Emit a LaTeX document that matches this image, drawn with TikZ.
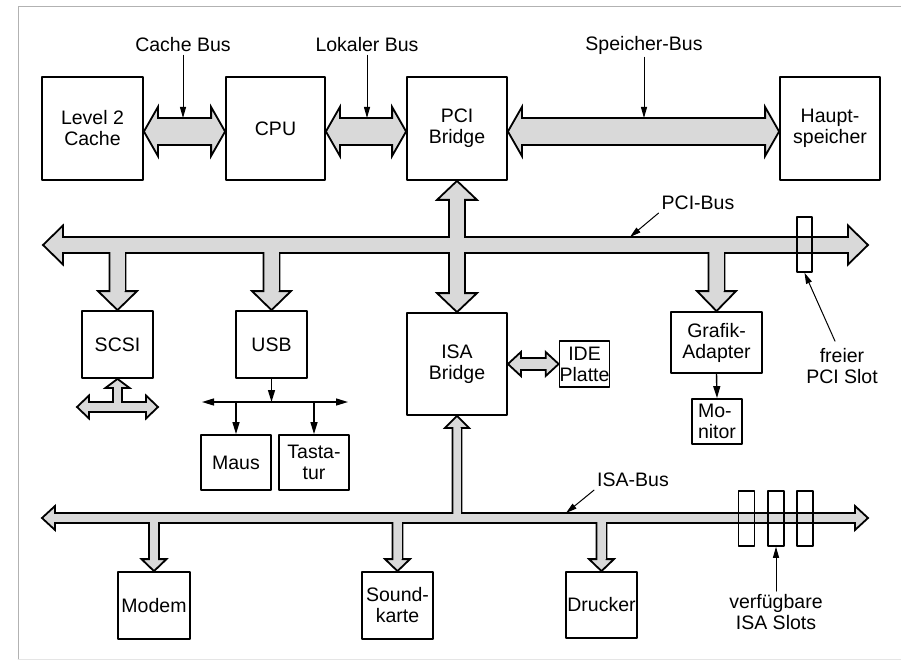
\documentclass[tikz,border=0pt]{standalone}
\usepackage{fontspec}
\setmainfont{Liberation Sans}
\usepackage{xcolor}
\usetikzlibrary{arrows.meta,calc}
\definecolor{busgray}{gray}{0.85}
\newcommand{\busfont}{\fontsize{19.5}{21}\selectfont}
\tikzset{
  box/.style={draw, line width=1.8pt, inner sep=0pt, align=center, font=\busfont},
  lbl/.style={inner sep=3pt, align=center, font=\busfont},
  slotbox/.style={draw, line width=1.5pt, minimum width=16pt, minimum height=55pt, inner sep=0pt},
  busline/.style={draw=black, fill=busgray, line width=1.8pt, line join=miter},
  lblarr/.style={-{Triangle[length=11pt,width=6pt]}, line width=1pt},
  usbarr/.style={-{Triangle[length=12pt,width=7pt]}, line width=1.4pt},
  every picture/.style={line cap=round, line join=round}
}
% fat bus arrow with heads at both ends: start, end, shaft half, head half, head length
\newcommand{\dblbus}[5]{%
  \path (#1) coordinate (p1) (#2) coordinate (p2);
  \coordinate (h1) at ($(p1)!#5!(p2)$);
  \coordinate (h2) at ($(p2)!#5!(p1)$);
  \filldraw[busline] (p1)
    -- ($(h1)!#4!90:(p2)$) -- ($(h1)!#3!90:(p2)$)
    -- ($(h2)!#3!-90:(p1)$) -- ($(h2)!#4!-90:(p1)$)
    -- (p2)
    -- ($(h2)!#4!90:(p1)$) -- ($(h2)!#3!90:(p1)$)
    -- ($(h1)!#3!-90:(p2)$) -- ($(h1)!#4!-90:(p2)$)
    -- cycle;
}
% fat bus arrow with one head at the end
\newcommand{\onebus}[5]{%
  \path (#1) coordinate (p1) (#2) coordinate (p2);
  \coordinate (h2) at ($(p2)!#5!(p1)$);
  \filldraw[busline] ($(p1)!#3!90:(p2)$)
    -- ($(h2)!#3!-90:(p1)$) -- ($(h2)!#4!-90:(p1)$)
    -- (p2)
    -- ($(h2)!#4!90:(p1)$) -- ($(h2)!#3!90:(p1)$)
    -- ($(p1)!#3!-90:(p2)$) -- cycle;
}
% grey over the inside of a shaft, hides the lines at the joins
\newcommand{\shaftfill}[3]{%
  \path (#1) coordinate (q1) (#2) coordinate (q2);
  \fill[busgray] ($(q1)!#3!90:(q2)$) -- ($(q2)!#3!-90:(q1)$)
    -- ($(q2)!#3!90:(q1)$) -- ($(q1)!#3!-90:(q2)$) -- cycle;
}
\newcommand{\dblbuses}{%
  l2.east |- topbus/cpu.west |- topbus/13.5pt/24.5pt/14pt,
  cpu.east |- topbus/pcib.west |- topbus/13.5pt/24.5pt/14pt,
  pcib.east |- topbus/haupt.west |- topbus/13.5pt/24.5pt/14pt,
  pciL/pciR/8pt/19.5pt/20pt,
  pcib.south/isab.north/8pt/20pt/19pt,
  isaL/isaR/5pt/12pt/13pt,
  isab.east/ide.west/6pt/12pt/13pt,
  scsiL/scsiR/5pt/11.5pt/12pt}
\newcommand{\onebuses}{%
  scsi.north |- pciL/scsi.north/8pt/19.5pt/19pt,
  usb.north |- pciL/usb.north/8pt/19.5pt/19pt,
  grafik.north |- pciL/grafik.north/8pt/19.5pt/20pt,
  isab.south |- isaL/isab.south/4.5pt/12pt/12pt,
  modem.north |- isaL/modem.north/5pt/12.5pt/12pt,
  sound.north |- isaL/sound.north/5pt/12.5pt/12pt,
  drucker.north |- isaL/drucker.north/5pt/12.5pt/12pt,
  scsi.south |- scsiL/scsi.south/4.5pt/12pt/9pt}

\begin{document}
\begin{tikzpicture}[x=1pt, y=-1pt]
    \useasboundingbox (0,0) rectangle (901,660);
    \draw[gray!60, line width=1pt] (18,660) -- (18,7) -- (901,7);
    \draw[gray!20, line width=0.8pt] (18,659) -- (901,659);

    \node[box, minimum width=101pt, minimum height=103pt] (l2) at (92.5,128.5) {Level 2\\Cache};
    \node[box, minimum width=99pt, minimum height=103pt] (cpu) at (275.5,128.5) {CPU};
    \node[box, minimum width=100pt, minimum height=103pt] (pcib) at (457,128.5) {PCI\\Bridge};
    \node[box, minimum width=100pt, minimum height=103pt] (haupt) at (830,128.5) {Haupt-\\speicher};
    \node[box, minimum width=71pt, minimum height=67pt] (scsi) at (117.5,344.5) {SCSI};
    \node[box, minimum width=71pt, minimum height=67pt] (usb) at (271.5,344.5) {USB};
    \node[box, minimum width=100pt, minimum height=102pt] (isab) at (457,364) {ISA\\Bridge};
    \node[box, minimum width=49pt, minimum height=46pt] (ide) at (584.5,364) {IDE\\Platte};
    \node[box, minimum width=91pt, minimum height=61pt] (grafik) at (716.5,342.5) {Grafik-\\Adapter};
    \node[box, minimum width=50pt, minimum height=45pt, align=left] (monitor) at (717,421.5) {Mo-\\nitor};
    \node[box, minimum width=70pt, minimum height=55pt] (maus) at (236,462.5) {Maus};
    \node[box, minimum width=70pt, minimum height=55pt] (tast) at (314,462.5) {Tasta-\\tur};
    \node[box, minimum width=72pt, minimum height=67pt] (modem) at (154,605.5) {Modem};
    \node[box, minimum width=71pt, minimum height=67pt] (sound) at (397.5,605.5) {Sound-\\karte};
    \node[box, minimum width=71pt, minimum height=66pt] (drucker) at (601.5,605) {Drucker};

    \coordinate (topbus) at (0,131.5);
    \coordinate (topshaft) at (0,118);
    \coordinate (pciL) at (43,245);
    \coordinate (pciR) at (868,245);
    \coordinate (isaL) at (42,518);
    \coordinate (isaR) at (868,518);
    \coordinate (scsiL) at (77,407);
    \coordinate (scsiR) at (158,407);
    \coordinate (usbL) at (202,402);
    \coordinate (usbR) at (348,402);
    \coordinate (pcitip) at (630,237);
    \coordinate (isatip) at (566,513);

    % buses, outlines first
    \foreach \fa/\fb/\fw/\fh/\fl in \dblbuses {\dblbus{\fa}{\fb}{\fw}{\fh}{\fl}}
    \foreach \fa/\fb/\fw/\fh/\fl in \onebuses {\onebus{\fa}{\fb}{\fw}{\fh}{\fl}}
    % then grey over the joins
    \foreach \fa/\fb/\fw/\fh/\fl in \dblbuses {\shaftfill{$(\fa)!\fl!(\fb)$}{$(\fb)!\fl!(\fa)$}{\fw-1pt}}
    \foreach \fa/\fb/\fw/\fh/\fl in \onebuses {\shaftfill{\fa}{$(\fb)!\fl!(\fa)$}{\fw-1pt}}

    \node[slotbox, minimum width=15pt] (pcislot) at (804.5,244.5) {};
    \foreach \name/\x in {slotA/746.5, slotB/776, slotC/805}
    {
      \node[slotbox] (\name) at (\x,518.5) {};
    }

    \node[lbl] (cachelbl) at (183,45) {Cache Bus};
    \node[lbl] (lokallbl) at (367,45) {Lokaler Bus};
    \node[lbl] (speicherlbl) at (644,45) {Speicher-Bus};
    \node[lbl] (pcilbl) at (698,203) {PCI-Bus};
    \node[lbl] (freelbl) at (842,366) {freier\\PCI Slot};
    \node[lbl] (isalbl) at (633,480) {ISA-Bus};
    \node[lbl] (slotlbl) at (776,612) {verfügbare\\ISA Slots};

    \draw[lblarr] (cachelbl.south) -- (cachelbl.south |- topshaft);
    \draw[lblarr] (lokallbl.south) -- (lokallbl.south |- topshaft);
    \draw[lblarr] (speicherlbl.south) -- (speicherlbl.south |- topshaft);
    \draw[lblarr] (pcilbl.south west) -- (pcitip);
    \draw[lblarr] (isalbl.south west) -- (isatip);
    \draw[lblarr] ($(freelbl.north)+(-7,-4)$) -- (pcislot.south);
    \draw[lblarr] (slotlbl.north) -- (slotB.south);

    \draw[usbarr] (usb.south) -- (usb.south |- usbL);
    \draw[usbarr, {Triangle[length=12pt,width=7pt]}-{Triangle[length=12pt,width=7pt]}] (usbL) -- (usbR);
    \draw[usbarr] (maus.north |- usbL) -- (maus.north);
    \draw[usbarr] (tast.north |- usbL) -- (tast.north);
    \draw[usbarr] (grafik.south) -- (monitor.north);
\end{tikzpicture}
\end{document}
